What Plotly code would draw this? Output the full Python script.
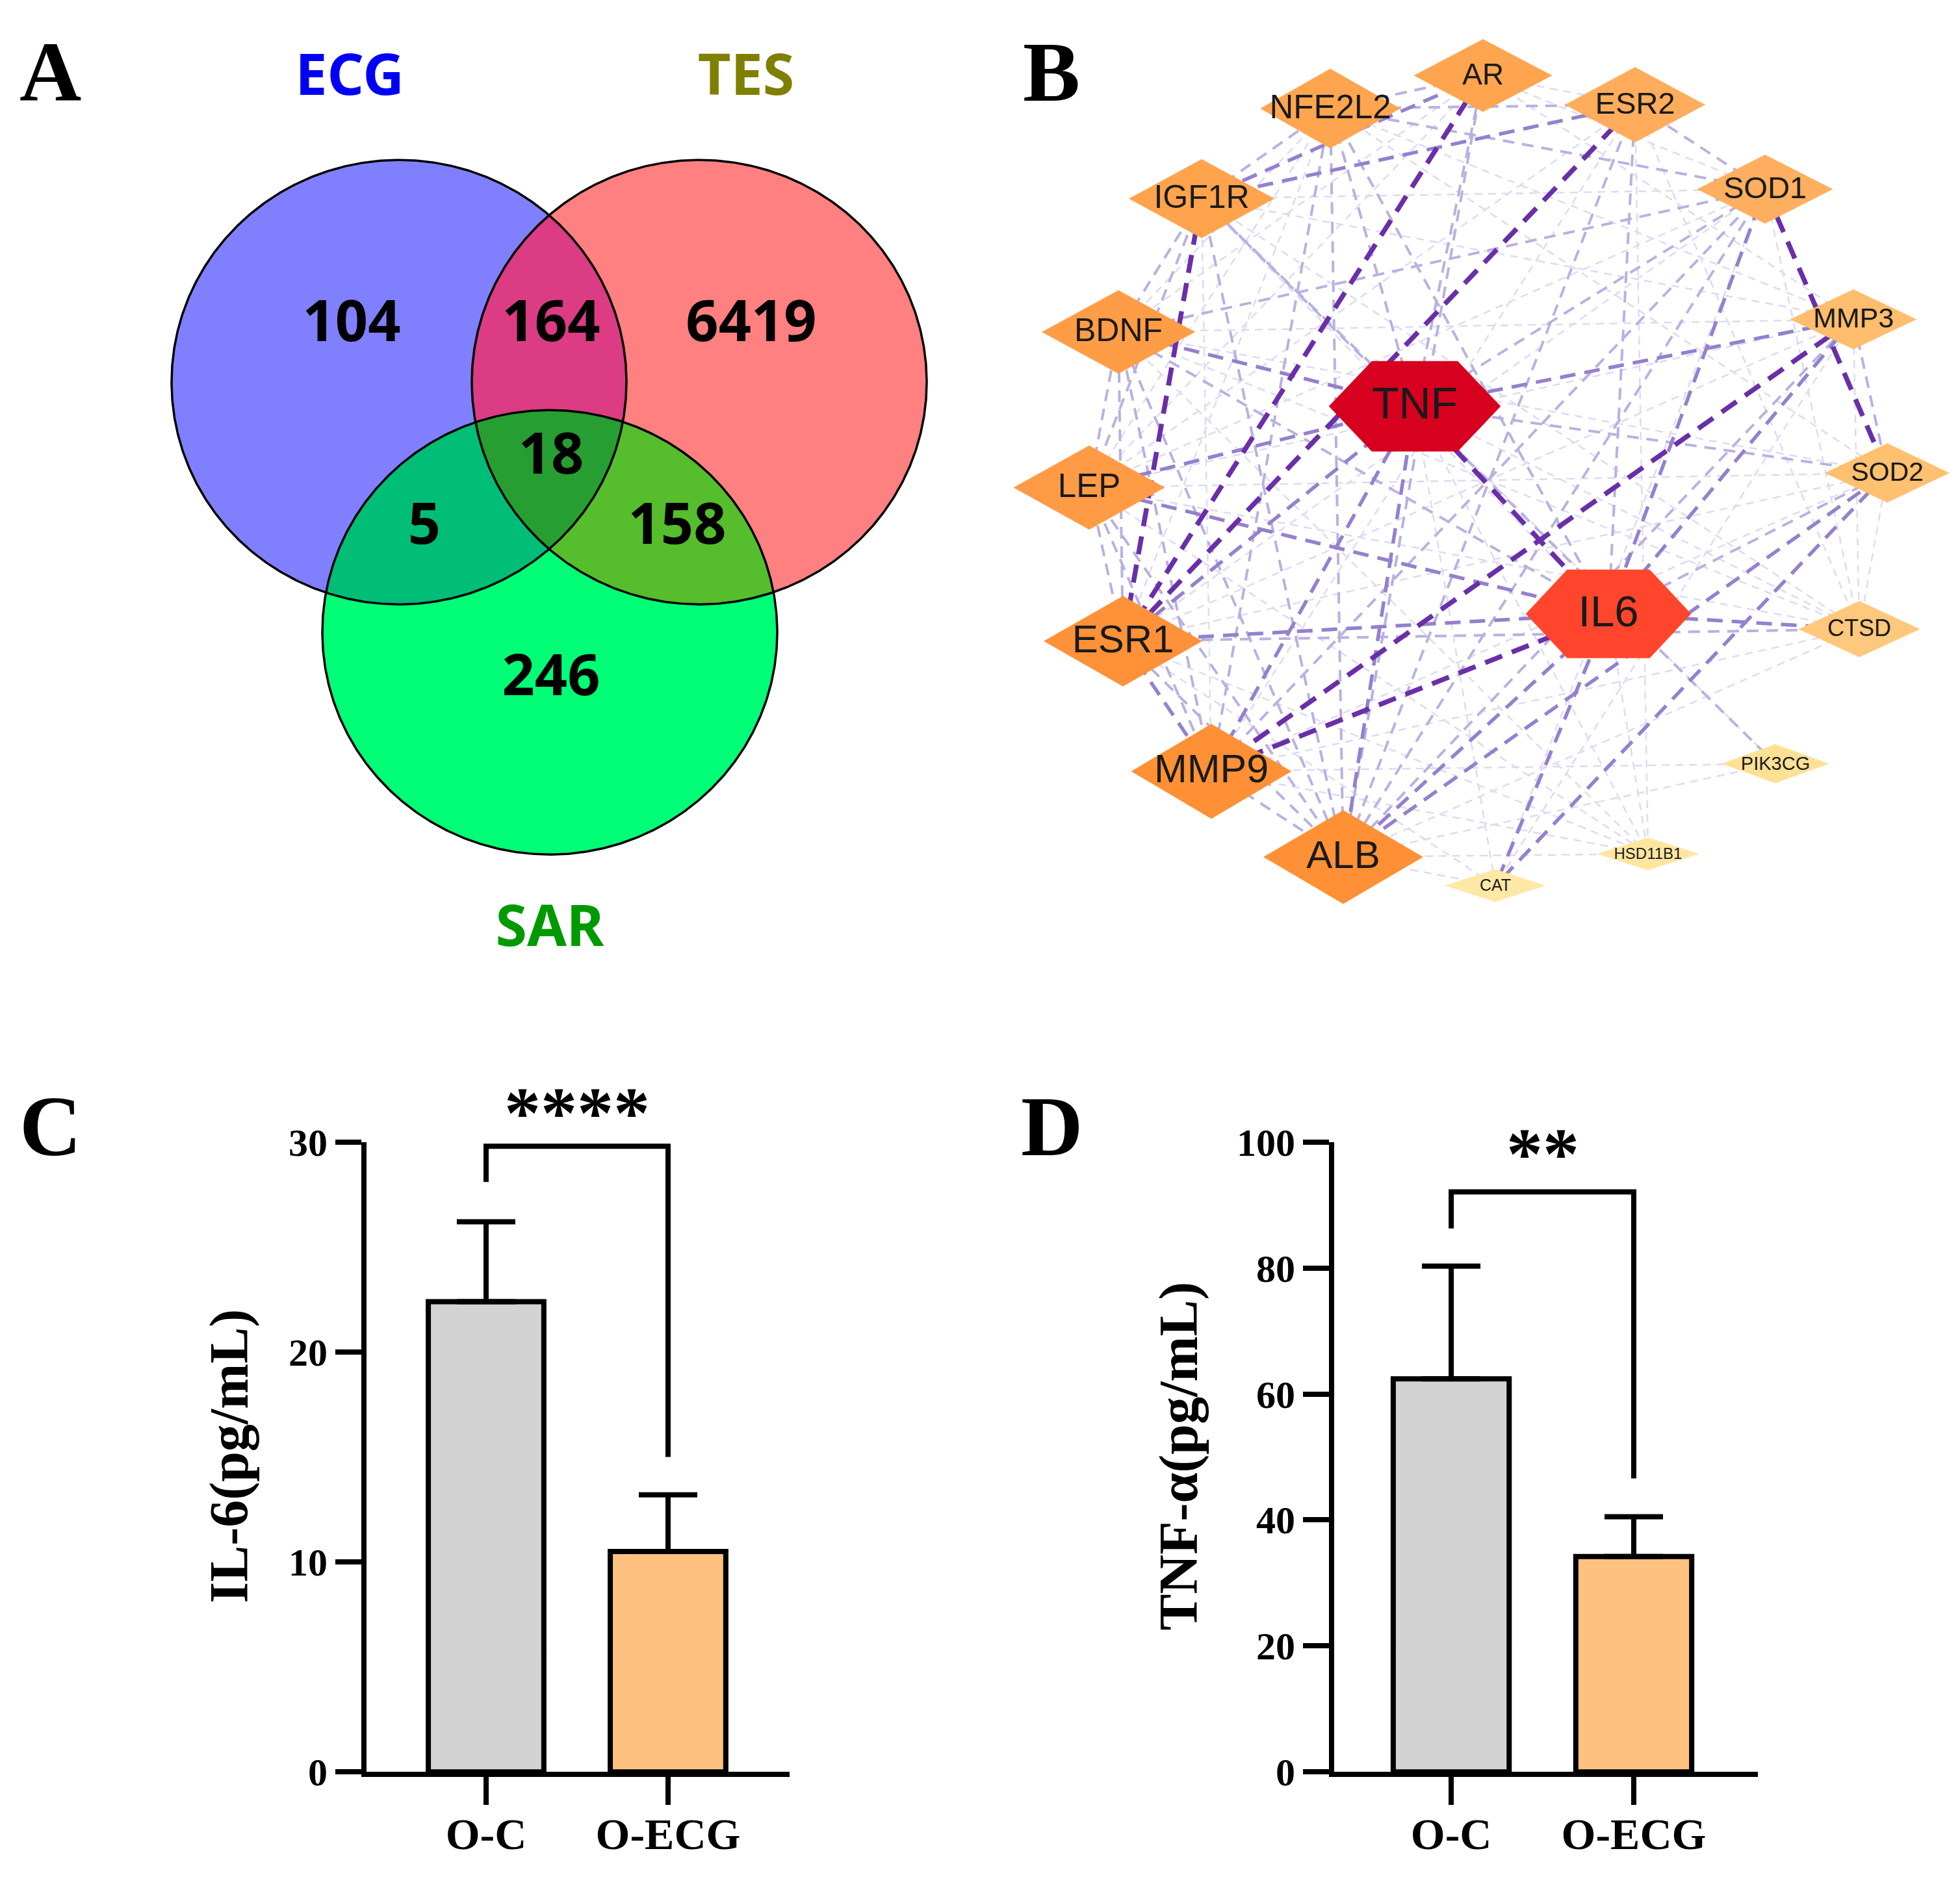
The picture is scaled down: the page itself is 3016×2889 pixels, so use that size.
import numpy as np
import plotly.graph_objects as go

W, H = 3016, 2889

# ---------------- Panel A : Venn data ----------------
venn_sets = ["ECG", "TES", "SAR"]
venn_region_members = [(1, 0, 0), (0, 1, 0), (0, 0, 1), (1, 1, 0), (1, 0, 1), (0, 1, 1), (1, 1, 1)]
venn_counts = [104, 6419, 246, 164, 5, 158, 18]

# Venn layout / style (pixel space)
venn_centers = [(606, 561), (1068, 561), (838, 955)]
venn_radius = 350
venn_label_pos = [(533, 474), (1148, 474), (840, 1032), (840, 474), (645, 793), (1034, 793), (840, 683)]
venn_set_label_pos = [(530, 86), (1140, 86), (838, 1427)]
venn_set_colors = ["#0000F5", "#7F7F00", "#009A00"]
venn_region_colors = ["#8080FF", "#FF8080", "#00FF77", "#DB3C84", "#00BE78", "#56BD2C", "#279E31"]

# ---------------- Panel B : PPI network data ----------------
genes = ["AR", "NFE2L2", "ESR2", "IGF1R", "SOD1", "BDNF", "MMP3", "TNF", "LEP",
         "SOD2", "IL6", "CTSD", "ESR1", "PIK3CG", "MMP9", "HSD11B1", "ALB", "CAT"]
edges_strong = [("AR", "ESR1"), ("ESR2", "ESR1"), ("IGF1R", "ESR1"), ("SOD1", "SOD2"),
                ("TNF", "IL6"), ("MMP3", "MMP9"), ("IL6", "MMP9")]
edges_medium = [("TNF", "ESR1"), ("TNF", "MMP9"), ("TNF", "ALB"), ("TNF", "LEP"), ("TNF", "MMP3"),
                ("IL6", "ALB"), ("IL6", "LEP"), ("IL6", "ESR1"), ("IL6", "SOD1"), ("IL6", "MMP3"),
                ("IL6", "CAT"), ("SOD2", "CAT"), ("IL6", "CTSD"), ("ESR2", "IGF1R"), ("AR", "IGF1R"),
                ("ALB", "SOD2"), ("ESR1", "MMP9"), ("TNF", "BDNF")]
edges_weak = [("AR", "NFE2L2"), ("NFE2L2", "IGF1R"), ("ESR2", "NFE2L2"), ("ESR2", "SOD1"),
              ("NFE2L2", "SOD1"), ("IGF1R", "BDNF"), ("BDNF", "LEP"), ("BDNF", "ESR1"), ("BDNF", "IL6"),
              ("BDNF", "MMP9"), ("LEP", "ESR1"), ("LEP", "MMP9"), ("LEP", "ALB"), ("ESR1", "ALB"),
              ("MMP9", "ALB"), ("IL6", "SOD2"), ("IL6", "ESR2"), ("IL6", "NFE2L2"), ("IGF1R", "PIK3CG"),
              ("TNF", "IGF1R"), ("TNF", "NFE2L2"), ("TNF", "AR"), ("TNF", "SOD1"), ("TNF", "SOD2"),
              ("ALB", "SOD1"), ("ALB", "MMP3"), ("ALB", "NFE2L2"), ("ALB", "BDNF"), ("ALB", "IGF1R"),
              ("ESR1", "CTSD"), ("SOD1", "BDNF"), ("SOD1", "MMP9"), ("AR", "ALB"), ("NFE2L2", "MMP9"),
              ("IGF1R", "LEP"), ("MMP3", "SOD2"), ("ESR2", "ALB")]
edges_faint = [("AR", "ESR2"), ("AR", "SOD1"), ("AR", "MMP3"), ("AR", "LEP"), ("AR", "BDNF"),
               ("NFE2L2", "BDNF"), ("NFE2L2", "LEP"), ("NFE2L2", "ESR1"), ("NFE2L2", "MMP3"),
               ("NFE2L2", "SOD2"), ("ESR2", "LEP"), ("ESR2", "MMP9"), ("ESR2", "CTSD"),
               ("ESR2", "HSD11B1"), ("IGF1R", "MMP9"), ("IGF1R", "SOD1"), ("IGF1R", "MMP3"),
               ("IGF1R", "CTSD"), ("SOD1", "LEP"), ("SOD1", "ESR1"), ("SOD1", "CAT"), ("SOD1", "CTSD"),
               ("BDNF", "MMP3"), ("BDNF", "SOD2"), ("BDNF", "CTSD"), ("BDNF", "HSD11B1"),
               ("MMP3", "LEP"), ("MMP3", "ESR1"), ("MMP3", "CTSD"), ("MMP3", "CAT"), ("LEP", "SOD2"),
               ("LEP", "CTSD"), ("LEP", "HSD11B1"), ("SOD2", "ESR1"), ("SOD2", "MMP9"), ("SOD2", "CTSD"),
               ("CTSD", "MMP9"), ("CTSD", "ALB"), ("CTSD", "TNF"), ("ESR1", "HSD11B1"), ("ESR1", "CAT"),
               ("MMP9", "HSD11B1"), ("MMP9", "PIK3CG"), ("ALB", "HSD11B1"), ("ALB", "CAT"),
               ("ALB", "PIK3CG"), ("TNF", "CAT"), ("TNF", "HSD11B1"), ("TNF", "PIK3CG"),
               ("IL6", "HSD11B1"), ("IL6", "IGF1R")]

# Network layout / style (pixel space)
gene_pos = {"AR": (2274, 78), "NFE2L2": (2039, 130), "ESR2": (2508, 124), "IGF1R": (1841, 272),
            "SOD1": (2708, 257), "BDNF": (1713, 482), "MMP3": (2844, 462), "TNF": (2169, 599),
            "LEP": (1668, 727), "SOD2": (2896, 704), "IL6": (2467, 926), "CTSD": (2853, 950),
            "ESR1": (1720, 969), "PIK3CG": (2724, 1162), "MMP9": (1856, 1174), "HSD11B1": (2528, 1304),
            "ALB": (2059, 1309), "CAT": (2293, 1354)}
gene_size = {"AR": (212, 114), "NFE2L2": (215, 125), "ESR2": (215, 118), "IGF1R": (223, 124),
             "SOD1": (208, 108), "BDNF": (235, 131), "MMP3": (194, 94), "TNF": (264, 142),
             "LEP": (232, 132), "SOD2": (191, 93), "IL6": (254, 139), "CTSD": (186, 88),
             "ESR1": (243, 142), "PIK3CG": (164, 61), "MMP9": (246, 149), "HSD11B1": (156, 51),
             "ALB": (245, 147), "CAT": (154, 51)}
gene_color = {"AR": "#FFA550", "NFE2L2": "#FFA550", "ESR2": "#FFAD5C", "IGF1R": "#FFA34C",
              "SOD1": "#FFAF5F", "BDNF": "#FF9D47", "MMP3": "#FFBE6E", "TNF": "#D7001F",
              "LEP": "#FF9B45", "SOD2": "#FFC070", "IL6": "#FF452C", "CTSD": "#FFC87D",
              "ESR1": "#FF9138", "PIK3CG": "#FFE196", "MMP9": "#FF9035", "HSD11B1": "#FFE6A0",
              "ALB": "#FF9035", "CAT": "#FFE8A5"}
gene_font = {"AR": 46, "NFE2L2": 51, "ESR2": 47, "IGF1R": 50, "SOD1": 47, "BDNF": 50, "MMP3": 43,
             "TNF": 68, "LEP": 51, "SOD2": 41, "IL6": 67, "CTSD": 36, "ESR1": 60, "PIK3CG": 29,
             "MMP9": 61, "HSD11B1": 24, "ALB": 60, "CAT": 25}
hex_genes = ["TNF", "IL6"]
edge_styles = [  # (edges, color, width, dash)
    (edges_faint, "#DEDAF2", 2.5, "12px,9px"),
    (edges_weak, "#B9B1E0", 4, "18px,12px"),
    (edges_medium, "#9580CE", 5.5, "24px,14px"),
    (edges_strong, "#6A2FA8", 7.5, "28px,16px"),
]

# ---------------- Panels C, D : bar data ----------------
groups = ["O-C", "O-ECG"]
il6_mean = [22.4, 10.5]
il6_sd = [3.8, 2.7]
tnf_mean = [62.4, 34.2]
tnf_sd = [17.9, 6.3]
il6_sig = "****"
tnf_sig = "**"
il6_bracket = [28.1, 29.8, 29.8, 15.0]
tnf_bracket = [86.3, 92.1, 92.1, 46.6]
il6_star_y = 31.4
tnf_star_y = 98.1
bar_colors = ["#D3D3D3", "#FEC17F"]

SERIF = "Liberation Serif"
SANS = "Liberation Sans"
VENN_FONT = "Noto Sans"

fig = go.Figure()

# ---- Venn regions ----
cen = np.array(venn_centers, float)


def region_polygon(p0, member, n=1440):
    th = np.linspace(0, 2 * np.pi, n, endpoint=False)
    d = np.stack([np.cos(th), np.sin(th)], 1)
    p = np.array(p0, float)
    tmin = np.full(n, np.inf)
    for c, m in zip(cen, member):
        pc = p - c
        b = d @ pc
        cc = pc @ pc - venn_radius ** 2
        disc = b * b - cc
        sq = np.sqrt(np.maximum(disc, 0))
        if m:
            t = -b + sq
        else:
            t1 = -b - sq
            t = np.where((disc > 0) & (t1 > 0), t1, np.inf)
        tmin = np.minimum(tmin, t)
    pts = p + d * tmin[:, None]
    return np.vstack([pts, pts[:1]])


for mem, lp, col in zip(venn_region_members, venn_label_pos, venn_region_colors):
    poly = region_polygon(lp, mem)
    fig.add_trace(go.Scatter(x=poly[:, 0], y=poly[:, 1], mode="lines", fill="toself",
                             fillcolor=col, line=dict(width=0.8, color=col),
                             xaxis="x", yaxis="y", hoverinfo="skip"))

tt = np.linspace(0, 2 * np.pi, 721)
for c in cen:
    fig.add_trace(go.Scatter(x=c[0] + venn_radius * np.cos(tt), y=c[1] + venn_radius * np.sin(tt),
                             mode="lines", line=dict(color="black", width=3.5),
                             xaxis="x", yaxis="y", hoverinfo="skip"))

fig.add_trace(go.Scatter(x=[p[0] for p in venn_label_pos], y=[p[1] for p in venn_label_pos],
                         text=[str(v) for v in venn_counts], mode="text",
                         textfont=dict(family=VENN_FONT, size=88, color="black", weight="bold"),
                         xaxis="x", yaxis="y", hoverinfo="skip"))
fig.add_trace(go.Scatter(x=[p[0] for p in venn_set_label_pos], y=[p[1] for p in venn_set_label_pos],
                         text=venn_sets, mode="text",
                         textfont=dict(family=VENN_FONT, size=88, color=venn_set_colors, weight="bold"),
                         xaxis="x", yaxis="y", hoverinfo="skip"))

# ---- Network edges ----
for elist, col, wd, dash in edge_styles:
    xs, ys = [], []
    for a, b in elist:
        xs += [gene_pos[a][0], gene_pos[b][0], None]
        ys += [gene_pos[a][1], gene_pos[b][1], None]
    fig.add_trace(go.Scatter(x=xs, y=ys, mode="lines", line=dict(color=col, width=wd, dash=dash),
                             xaxis="x", yaxis="y", hoverinfo="skip"))

# ---- Network nodes ----
for g in genes:
    x0, y0 = gene_pos[g]
    w, h = gene_size[g]
    if g in hex_genes:
        i = 0.25 * w
        px = [x0 - w / 2, x0 - w / 2 + i, x0 + w / 2 - i, x0 + w / 2, x0 + w / 2 - i, x0 - w / 2 + i, x0 - w / 2]
        py = [y0, y0 - h / 2, y0 - h / 2, y0, y0 + h / 2, y0 + h / 2, y0]
    else:
        px = [x0 - w / 2, x0, x0 + w / 2, x0, x0 - w / 2]
        py = [y0, y0 - h / 2, y0, y0 + h / 2, y0]
    fig.add_trace(go.Scatter(x=px, y=py, mode="lines", fill="toself", fillcolor=gene_color[g],
                             line=dict(width=0.5, color=gene_color[g]),
                             xaxis="x", yaxis="y", hoverinfo="skip"))

fig.add_trace(go.Scatter(x=[gene_pos[g][0] for g in genes], y=[gene_pos[g][1] + 2 for g in genes],
                         text=genes, mode="text",
                         textfont=dict(family=SANS, size=[gene_font[g] for g in genes], color="#1A1A1A"),
                         xaxis="x", yaxis="y", hoverinfo="skip"))

# ---- Bar charts ----
for means, sds, xa, ya, bracket in [(il6_mean, il6_sd, "x2", "y2", il6_bracket),
                                      (tnf_mean, tnf_sd, "x3", "y3", tnf_bracket)]:
    fig.add_trace(go.Bar(x=groups, y=means, width=0.635,
                         marker=dict(color=bar_colors, line=dict(color="black", width=8)),
                         error_y=dict(type="data", array=sds, arrayminus=[0, 0], symmetric=False,
                                      color="black", thickness=8, width=45),
                         xaxis=xa, yaxis=ya, hoverinfo="skip"))
    fig.add_trace(go.Scatter(x=[groups[0], groups[0], groups[1], groups[1]], y=bracket,
                             mode="lines", line=dict(color="black", width=8),
                             xaxis=xa, yaxis=ya, hoverinfo="skip"))


def px2paper_x(v):
    return v / W


def px2paper_y(v):
    return 1 - v / H


bar_ydomain = [px2paper_y(2750), px2paper_y(1758)]


def val2paper(v, vmax):
    return bar_ydomain[0] + v / vmax * (bar_ydomain[1] - bar_ydomain[0])


ax_common = dict(showline=True, linecolor="black", linewidth=8, ticks="outside", tickwidth=8,
                 tickcolor="black", showgrid=False, zeroline=False, fixedrange=True)
xfont = dict(family=SERIF, size=68, color="black", weight="bold")
yfont = dict(family=SERIF, size=60, color="black", weight="bold")

fig.update_layout(
    width=W, height=H, autosize=False,
    margin=dict(l=0, r=0, t=0, b=0, pad=0),
    paper_bgcolor="white", plot_bgcolor="rgba(0,0,0,0)",
    showlegend=False, hovermode=False,
    xaxis=dict(domain=[0, 1], range=[0, W], visible=False, fixedrange=True),
    yaxis=dict(domain=[0, 1], range=[H, 0], visible=False, fixedrange=True),
    xaxis2=dict(domain=[px2paper_x(556), px2paper_x(1207)], range=[-0.657, 1.668], anchor="y2",
                ticklen=43, tickfont=xfont, type="category", ticklabelstandoff=-14, **ax_common),
    yaxis2=dict(domain=bar_ydomain, range=[0, 30], anchor="x2",
                tickvals=[0, 10, 20, 30], ticklen=40, tickfont=yfont, **ax_common),
    xaxis3=dict(domain=[px2paper_x(2045), px2paper_x(2697)], range=[-0.641, 1.680], anchor="y3",
                ticklen=43, tickfont=xfont, type="category", ticklabelstandoff=-14, **ax_common),
    yaxis3=dict(domain=bar_ydomain, range=[0, 100], anchor="x3",
                tickvals=[0, 20, 40, 60, 80, 100], ticklen=40, tickfont=yfont, **ax_common),
)

annotations = []
for letter, (lx, ly) in zip("ABCD", [(69, 72), (1610, 72), (69, 1733), (1610, 1733)]):
    annotations.append(dict(x=px2paper_x(lx), y=px2paper_y(ly), xref="paper", yref="paper",
                            xanchor="center", yanchor="middle",
                            text=letter, showarrow=False,
                            font=dict(family=SERIF, size=132, color="black", weight="bold")))
for title, tx in [("IL-6(pg/mL)", 345), ("TNF-α(pg/mL)", 1806)]:
    annotations.append(dict(x=px2paper_x(tx), y=px2paper_y(2253), xref="paper", yref="paper",
                            xanchor="center", yanchor="middle",
                            text=title, textangle=-90, showarrow=False,
                            font=dict(family=SERIF, size=84, color="black", weight="bold")))
annotations.append(dict(x=0.5, y=val2paper(il6_star_y, 30), xref="x2", yref="paper",
                        xanchor="center", yanchor="middle", text=il6_sig, showarrow=False,
                        font=dict(family=SERIF, size=112, color="black", weight="bold")))
annotations.append(dict(x=0.5, y=val2paper(tnf_star_y, 100), xref="x3", yref="paper",
                        xanchor="center", yanchor="middle", text=tnf_sig, showarrow=False,
                        font=dict(family=SERIF, size=112, color="black", weight="bold")))
fig.update_layout(annotations=annotations)

fig.write_html("out.html")
